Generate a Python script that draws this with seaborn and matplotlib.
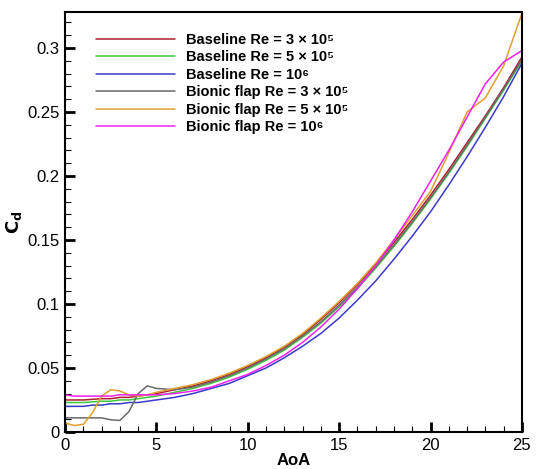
import numpy as np
import pandas as pd
import matplotlib
matplotlib.use("Agg")
import matplotlib.pyplot as plt
from matplotlib.ticker import MultipleLocator
import seaborn as sns

aoa = [0, 0.5, 1, 1.5, 2, 2.5, 3, 3.5, 4, 4.5, 5, 6, 7, 8, 9, 10, 11, 12, 13,
       14, 15, 16, 17, 18, 19, 20, 21, 22, 23, 24, 25]

base_3e5 = [0.025, 0.025, 0.025, 0.0255, 0.026, 0.026, 0.027, 0.027, 0.028, 0.029, 0.030,
            0.033, 0.036, 0.040, 0.045, 0.051, 0.058, 0.066, 0.076, 0.088, 0.101,
            0.115, 0.131, 0.148, 0.166, 0.185, 0.205, 0.226, 0.247, 0.269, 0.293]
base_5e5 = [0.023, 0.023, 0.023, 0.0235, 0.024, 0.024, 0.025, 0.025, 0.026, 0.027, 0.028,
            0.031, 0.034, 0.038, 0.043, 0.049, 0.056, 0.064, 0.074, 0.085, 0.098,
            0.112, 0.128, 0.145, 0.163, 0.182, 0.202, 0.223, 0.245, 0.267, 0.290]
base_1e6 = [0.020, 0.020, 0.020, 0.021, 0.021, 0.022, 0.022, 0.023, 0.023, 0.024, 0.025,
            0.027, 0.030, 0.034, 0.038, 0.044, 0.050, 0.058, 0.067, 0.077, 0.089,
            0.103, 0.118, 0.135, 0.153, 0.172, 0.193, 0.215, 0.238, 0.262, 0.288]
bionic_3e5 = [0.011, 0.011, 0.011, 0.011, 0.011, 0.0095, 0.009, 0.016, 0.030, 0.036, 0.034,
              0.033, 0.035, 0.039, 0.044, 0.050, 0.057, 0.065, 0.075, 0.086, 0.099,
              0.113, 0.129, 0.146, 0.164, 0.183, 0.203, 0.224, 0.246, 0.268, 0.291]
bionic_5e5 = [0.007, 0.005, 0.006, 0.015, 0.028, 0.033, 0.032, 0.029, 0.028, 0.029, 0.031,
              0.034, 0.037, 0.041, 0.046, 0.052, 0.059, 0.067, 0.077, 0.089, 0.102,
              0.116, 0.132, 0.150, 0.169, 0.188, 0.218, 0.250, 0.261, 0.286, 0.327]
bionic_1e6 = [0.029, 0.028, 0.028, 0.028, 0.028, 0.028, 0.029, 0.029, 0.029, 0.029, 0.029,
              0.030, 0.032, 0.035, 0.040, 0.045, 0.052, 0.060, 0.070, 0.082, 0.096,
              0.112, 0.130, 0.150, 0.172, 0.196, 0.220, 0.246, 0.272, 0.289, 0.298]

labels = ["Baseline Re = 3 × 10⁵",
          "Baseline Re = 5 × 10⁵",
          "Baseline Re = 10⁶",
          "Bionic flap Re = 3 × 10⁵",
          "Bionic flap Re = 5 × 10⁵",
          "Bionic flap Re = 10⁶"]
colors = ["#b01c2e", "#3ec83e", "#3a3ac8", "#6a6a6a", "#e0a030", "#f020f0"]
series = [base_3e5, base_5e5, base_1e6, bionic_3e5, bionic_5e5, bionic_1e6]

sns.set_style("ticks")
plt.rcParams['font.family'] = ['Liberation Sans', 'DejaVu Sans']
plt.rcParams.update({"text.color": "black", "axes.labelcolor": "black",
                     "xtick.color": "black", "ytick.color": "black"})

fig = plt.figure(figsize=(5.38, 4.69), dpi=100)
ax = fig.add_axes([0.121, 0.079, 0.849, 0.895])

for vals, lab, c in zip(series, labels, colors):
    sns.lineplot(x=aoa, y=vals, ax=ax, color=c, lw=1.1, label=lab)

ax.set_xlim(0, 25)
ax.set_ylim(0, 0.328)
ax.xaxis.set_major_locator(MultipleLocator(5))
ax.xaxis.set_minor_locator(MultipleLocator(1))
ax.yaxis.set_minor_locator(MultipleLocator(0.01))
ax.set_yticks([0, 0.05, 0.1, 0.15, 0.2, 0.25, 0.3])
ax.set_yticklabels(["0", "0.05", "0.1", "0.15", "0.2", "0.25", "0.3"])
ax.tick_params(which="major", direction="in", length=7, width=2, labelsize=12, pad=4)
ax.tick_params(which="minor", direction="in", length=4, width=0.8)
for s in ax.spines.values():
    s.set_linewidth(1.5)
    s.set_color("black")

ax.set_xlabel("AoA", fontsize=12, fontweight="bold", labelpad=0)
ax.set_ylabel(r"$\mathbf{C_d}$", fontsize=13, labelpad=2)

ax.legend(loc="upper left", bbox_to_anchor=(0.055, 0.965), frameon=False,
          prop={"weight": "bold", "size": 10.5}, handlelength=5.4,
          handletextpad=0.8, labelspacing=0.24, borderaxespad=0)

fig.savefig("out.png", dpi=100)
